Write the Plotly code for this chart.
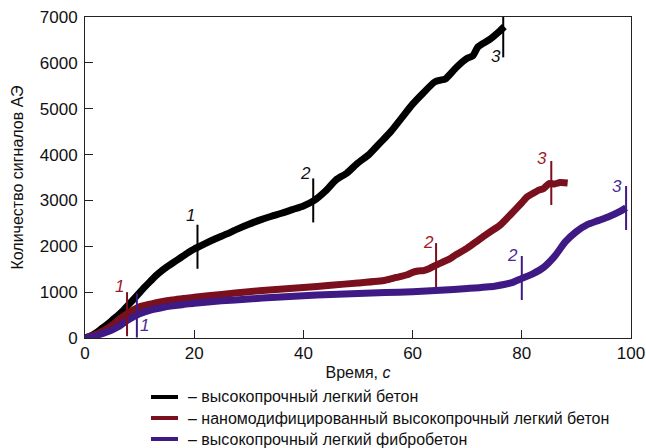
import plotly.graph_objects as go

# ---- data ----
t_black = [0, 1, 2, 3, 4, 5, 6, 7, 8, 9, 10, 11, 12, 13, 14, 15, 16, 17, 18, 19, 20, 21, 22, 24, 26, 28, 30,
           32, 34, 36, 38, 40, 42, 44, 46, 48, 50, 52, 54, 56, 58, 60, 62, 64, 65, 66, 68, 70, 71, 72, 74, 76, 76.8]
v_black = [0, 40, 110, 200, 290, 390, 490, 600, 730, 860, 990, 1120, 1240, 1360, 1460, 1550, 1630, 1710, 1790,
           1870, 1940, 2000, 2060, 2170, 2270, 2380, 2480, 2570, 2650, 2720, 2800, 2880, 3000, 3200, 3450, 3600,
           3820, 4000, 4250, 4500, 4800, 5100, 5350, 5580, 5620, 5650, 5900, 6100, 6150, 6350, 6500, 6700, 6790]

t_red = [0, 2, 4, 5, 6, 7, 8, 9, 10, 12, 14, 16, 18, 20, 25, 30, 35, 40, 45, 50, 55, 57, 59, 60, 61, 62, 63,
         64.3, 66, 67, 68, 70, 72, 74, 76, 78, 80, 81, 82, 83, 84, 85, 86, 87, 88.4]
v_red = [0, 80, 200, 280, 380, 470, 550, 620, 680, 740, 790, 830, 860, 890, 950, 1010, 1060, 1100, 1150, 1200,
         1260, 1320, 1380, 1430, 1460, 1470, 1510, 1590, 1680, 1740, 1820, 1960, 2130, 2300, 2460, 2700, 2950,
         3080, 3150, 3220, 3260, 3370, 3360, 3390, 3380]

t_blue = [0, 1, 2, 3, 4, 5, 6, 7, 8, 9, 10, 12, 14, 16, 18, 20, 25, 30, 35, 40, 45, 50, 55, 60, 65, 70, 75, 78,
          80, 82, 84, 86, 88, 90, 92, 94, 96, 98, 99.1]
v_blue = [0, 20, 50, 90, 130, 180, 240, 320, 400, 470, 530, 610, 660, 700, 730, 760, 810, 850, 890, 920, 950,
          970, 990, 1010, 1040, 1080, 1130, 1200, 1300, 1400, 1540, 1780, 2100, 2320, 2470, 2560, 2650, 2760, 2840]

# stage marks (1, 2, 3) for each series: time and count
stage_labels = ["1", "2", "3"]
stage_t_black = [20.6, 41.8, 76.6]
stage_v_black = [1990, 3000, 6600]
stage_t_red = [7.7, 64.3, 85.4]
stage_v_red = [520, 1590, 3380]
stage_t_blue = [9.5, 80.0, 99.1]
stage_v_blue = [490, 1308, 2835]

names = ["– высокопрочный легкий бетон",
         "– наномодифицированный высокопрочный легкий бетон",
         "– высокопрочный легкий фибробетон"]

x_ticks = [0, 20, 40, 60, 80, 100]
y_ticks = [0, 1000, 2000, 3000, 4000, 5000, 6000, 7000]

# ---- styles ----
line_colors = ["#000000", "#7a0f1e", "#3f1a85"]
label_colors = ["#111111", "#a0182c", "#4a2a95"]
HALF = 480  # half height of stage marks (data units)
# label pixel offsets per series and stage
label_shift = [
    [(-7, 31), (-8, 27), (-7, -21)],
    [(-8, 28), (-8, 23), (-9, 25)],
    [(8, -10), (-9, 23), (-9, 22)],
]

FONT = "Liberation Sans, Arial, sans-serif"
W, H = 646, 448
ML, MR, MT, MB = 85, 15, 17, 110
PW, PH = W - ML - MR, H - MT - MB


def px_to_paper(px, py):
    return (px - ML) / PW, (H - MB - py) / PH


fig = go.Figure()

series = [(t_black, v_black, stage_t_black, stage_v_black),
          (t_red, v_red, stage_t_red, stage_v_red),
          (t_blue, v_blue, stage_t_blue, stage_v_blue)]

for i, (t, v, st, sv) in enumerate(series):
    fig.add_trace(go.Scatter(x=t, y=v, mode="lines", name=names[i],
                             line=dict(color=line_colors[i], width=7, shape="spline", smoothing=0.6),
                             showlegend=False))

for i, (t, v, st, sv) in enumerate(series):
    for k in range(3):
        fig.add_trace(go.Scatter(x=[st[k], st[k]], y=[sv[k] - HALF, sv[k] + HALF], mode="lines",
                                 line=dict(color=line_colors[i], width=2), showlegend=False,
                                 hoverinfo="skip", cliponaxis=False))
        dx, dy = label_shift[i][k]
        fig.add_annotation(x=st[k], y=sv[k], text="<i>" + stage_labels[k] + "</i>", showarrow=False,
                           xshift=dx, yshift=dy, font=dict(size=17, color=label_colors[i], family=FONT))

# manual legend below the plot
legend_rows_px = [397, 418, 439]
for i, name in enumerate(names):
    x0, y0 = px_to_paper(151, legend_rows_px[i])
    x1, _ = px_to_paper(178, legend_rows_px[i])
    fig.add_shape(type="line", xref="paper", yref="paper", x0=x0, x1=x1, y0=y0, y1=y0,
                  line=dict(color=line_colors[i], width=4))
    xt, _ = px_to_paper(186, legend_rows_px[i])
    fig.add_annotation(xref="paper", yref="paper", x=xt, y=y0, text=name, showarrow=False,
                       xanchor="left", yanchor="middle", font=dict(size=16, color="#111111", family=FONT))

fig.update_layout(
    width=W, height=H,
    margin=dict(l=ML, r=MR, t=MT, b=MB, autoexpand=False),
    paper_bgcolor="white", plot_bgcolor="white",
    font=dict(family=FONT, size=16, color="#111111"),
    showlegend=False,
)

fig.update_xaxes(range=[0, 100], tickvals=x_ticks, ticks="inside", ticklen=8, tickwidth=1,
                 tickcolor="#222", showline=True, linecolor="#222", linewidth=1, mirror=True,
                 showgrid=False, zeroline=False, tickfont=dict(size=17),
                 title=dict(text="Время, <i>с</i>", font=dict(size=16), standoff=4))
fig.update_yaxes(range=[0, 7000], tickvals=y_ticks, ticks="inside", ticklen=8, tickwidth=1,
                 tickcolor="#222", showline=True, linecolor="#222", linewidth=1, mirror=True,
                 showgrid=False, zeroline=False, tickfont=dict(size=17), ticklabelstandoff=3,
                 title=dict(text="Количество сигналов АЭ", font=dict(size=16), standoff=12))

fig.write_html("out.html", post_script="document.body.style.margin='0';",
               config={"displayModeBar": False})
